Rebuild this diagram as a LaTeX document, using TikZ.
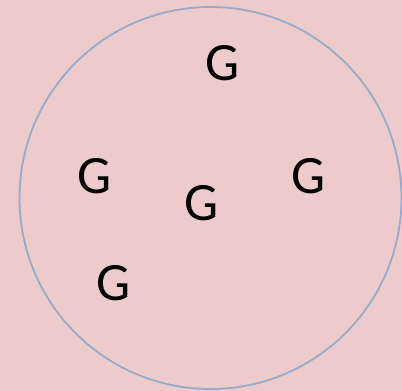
\documentclass[tikz,border=0pt]{standalone}
\usepackage{fontspec}
\setmainfont{Carlito}
\definecolor{bgpink}{RGB}{237,203,203}
\definecolor{ringblue}{RGB}{150,170,204}
\tikzset{
  glabel/.style={anchor=base, inner sep=0pt, font=\fontsize{54}{60}\selectfont, text=black},
  ring/.style={draw=ringblue, line width=1.8pt}
}
\begin{document}
\begin{tikzpicture}[x=1pt,y=-1pt]
\fill[bgpink] (0,0) rectangle (402,391);
\useasboundingbox (0,0) rectangle (402,391);
\node[ring, circle, minimum size=382pt, inner sep=0pt] (c) at (210.5,198) {};
\node[glabel] (g1) at (223,80) {G};
\node[glabel] (g2) at (95,193) {G};
\node[glabel] (g3) at (202,220) {G};
\node[glabel] (g4) at (309,193) {G};
\node[glabel] (g5) at (114,300) {G};
\end{tikzpicture}
\end{document}
